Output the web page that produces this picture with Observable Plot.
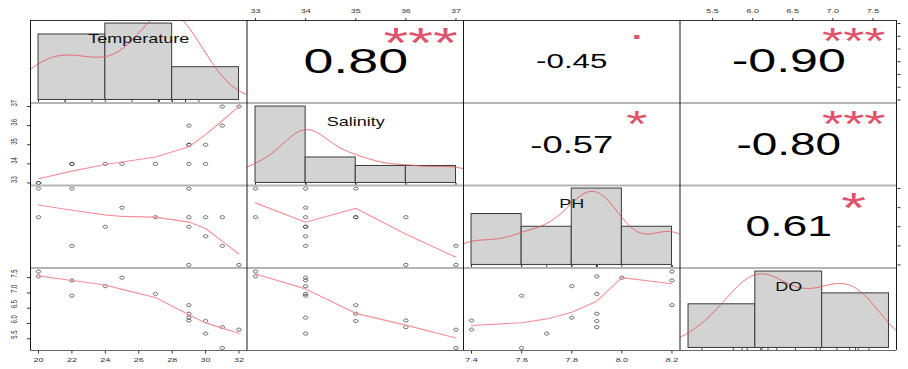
<!DOCTYPE html>
<html>
<head>
<meta charset="utf-8">
<script src="https://cdn.jsdelivr.net/npm/d3@7"></script>
<script src="https://cdn.jsdelivr.net/npm/@observablehq/plot@0.6"></script>
<style>
  body { margin: 0; background: #fff; }
  #chart { position: relative; width: 908px; height: 369px; overflow: hidden; background: #fff; }
  #chart svg { position: absolute; overflow: visible; }
</style>
</head>
<body>
<div id="chart"></div>
<script>
// Water quality measurements (16 samples)
const variables = ["Temperature", "Salinity", "PH", "DO"];
const temperature = [20, 20, 22, 22, 24, 25, 27, 29, 29, 29, 29, 30, 30, 31, 31, 32];
const salinity = [33, 33, 34, 34, 34, 34, 34, 35, 35, 34, 36, 35, 34, 36, 37, 37];
const ph = [8.2, 7.9, 8.2, 7.6, 7.8, 8.0, 7.9, 8.2, 7.9, 7.8, 7.4, 7.9, 7.7, 7.9, 7.6, 7.4];
const dissolvedOxygen = [7.7, 7.54, 7.41, 6.91, 7.22, 7.5, 6.97, 6.6, 6.32, 6.19, 6.1, 6.08, 5.67, 5.88, 5.2, 5.8];

// Pearson correlations and significance codes, upper-triangle order:
// (T,S) (T,PH) (T,DO) (S,PH) (S,DO) (PH,DO)
const correlationLabels = ["0.80", "-0.45", "-0.90", "-0.57", "-0.80", "0.61"];
const significance = ["***", ".", "***", "*", "***", "*"];

const series = [temperature, salinity, ph, dissolvedOxygen];
const nVar = variables.length;
const n = temperature.length;

// layout
const cellW = 216.5, cellH = 82.5, gridLeft = 30, gridTop = 20;
const SX = 1.5; // horizontal text stretch
const FONT = '"Liberation Sans", Arial, Helvetica, sans-serif';
const SMOOTH = "#f3909b", DENS = "#e5545e", STAR = "#df536b";

const pad = ([a, b]) => [a - 0.04 * (b - a), b + 0.04 * (b - a)];
const lerp = (d, t) => d[0] + t * (d[1] - d[0]);
const domains = series.map(v => pad(d3.extent(v)));

const ctx = document.createElement("canvas").getContext("2d");
function emWidth(s) { ctx.font = `100px ${FONT}`; return ctx.measureText(s).width / 100; }

function iqr(v) {
  const s = v.slice().sort(d3.ascending);
  return d3.quantileSorted(s, 0.75) - d3.quantileSorted(s, 0.25);
}

// Freedman-Diaconis breaks, rounded to a pretty step
function fdBreaks(v) {
  const [lo, hi] = d3.extent(v);
  const nclass = Math.ceil((hi - lo) / (2 * iqr(v) * Math.pow(v.length, -1 / 3)));
  const step = d3.tickStep(lo, hi, nclass);
  const k0 = Math.floor(lo / step + 1e-9), k1 = Math.ceil(hi / step - 1e-9);
  return d3.range(k0, k1 + 1).map(k => +(k * step).toFixed(10));
}

// right-closed bins, density scaled
function histogram(v, breaks) {
  const eps = 1e-7 * (breaks[1] - breaks[0]);
  return d3.pairs(breaks).map(([a, b], k) => {
    const count = v.filter(x => (k === 0 ? x >= a - eps : x > a + eps) && x <= b + eps).length;
    return {x1: a, x2: b, density: count / (v.length * (b - a))};
  });
}

// Gaussian kernel density, nrd0 bandwidth
function kde(v) {
  const bw = 0.9 * Math.min(d3.deviation(v), iqr(v) / 1.34) * Math.pow(v.length, -0.2);
  const [lo, hi] = d3.extent(v);
  const from = lo - 3 * bw, to = hi + 3 * bw;
  return d3.range(512).map(i => {
    const x = from + (to - from) * i / 511;
    const y = d3.mean(v, d => Math.exp(-0.5 * ((x - d) / bw) ** 2)) / (bw * Math.sqrt(2 * Math.PI));
    return {x, y};
  });
}

// LOWESS smoother (f = 2/3, 3 robustness iterations)
function lowess(xIn, yIn, f = 2 / 3, nsteps = 3) {
  const N = xIn.length;
  const order = d3.range(N).sort((a, b) => xIn[a] - xIn[b]);
  const x = [NaN, ...order.map(i => xIn[i])];
  const y = [NaN, ...order.map(i => yIn[i])];
  const ys = new Array(N + 1).fill(0), rw = new Array(N + 1).fill(1), res = new Array(N + 1).fill(0);
  const range = x[N] - x[1];
  const delta = 0.01 * range;
  const ns = Math.max(2, Math.min(N, Math.floor(f * N + 1e-7)));

  function lowest(xs, nleft, nright, userw) {
    const h = Math.max(xs - x[nleft], x[nright] - xs);
    const h9 = 0.999 * h, h1 = 0.001 * h;
    const w = new Array(N + 1).fill(0);
    let a = 0, j = nleft;
    while (j <= N) {
      w[j] = 0;
      const r = Math.abs(x[j] - xs);
      if (r <= h9) {
        w[j] = r <= h1 ? 1 : (1 - (r / h) ** 3) ** 3;
        if (userw) w[j] *= rw[j];
        a += w[j];
      } else if (x[j] > xs) break;
      j++;
    }
    const nrt = j - 1;
    if (a <= 0) return null;
    for (j = nleft; j <= nrt; j++) w[j] /= a;
    if (h > 0) {
      a = 0;
      for (j = nleft; j <= nrt; j++) a += w[j] * x[j];
      let b = xs - a, c = 0;
      for (j = nleft; j <= nrt; j++) c += w[j] * (x[j] - a) ** 2;
      if (Math.sqrt(c) > 0.001 * range) {
        b /= c;
        for (j = nleft; j <= nrt; j++) w[j] *= b * (x[j] - a) + 1;
      }
    }
    let out = 0;
    for (j = nleft; j <= nrt; j++) out += w[j] * y[j];
    return out;
  }

  for (let iter = 1; iter <= nsteps + 1; iter++) {
    let nleft = 1, nright = ns, last = 0, i = 1;
    for (;;) {
      if (nright < N) {
        const d1 = x[i] - x[nleft], d2 = x[nright + 1] - x[i];
        if (d1 > d2) { nleft++; nright++; continue; }
      }
      const fit = lowest(x[i], nleft, nright, iter > 1);
      ys[i] = fit === null ? y[i] : fit;
      if (last < i - 1) {
        const denom = x[i] - x[last];
        for (let j = last + 1; j < i; j++) {
          const alpha = (x[j] - x[last]) / denom;
          ys[j] = alpha * ys[i] + (1 - alpha) * ys[last];
        }
      }
      last = i;
      const cut = x[last] + delta;
      for (i = last + 1; i <= N; i++) {
        if (x[i] > cut) break;
        if (x[i] === x[last]) { ys[i] = ys[last]; last = i; }
      }
      i = Math.max(last + 1, i - 1);
      if (last >= N) break;
    }
    for (let k = 1; k <= N; k++) res[k] = y[k] - ys[k];
    const sc = d3.mean(res.slice(1), Math.abs);
    if (iter > nsteps) break;
    const absRes = res.slice(1).map(Math.abs).sort(d3.ascending);
    const m1 = Math.floor(N / 2);
    const cmad = N % 2 === 0 ? 3 * (absRes[m1] + absRes[N - m1 - 1]) : 6 * absRes[m1];
    if (cmad < 1e-7 * sc) break;
    const c9 = 0.999 * cmad, c1 = 0.001 * cmad;
    for (let k = 1; k <= N; k++) {
      const r = Math.abs(res[k]);
      rw[k] = r <= c1 ? 1 : r <= c9 ? (1 - (r / cmad) ** 2) ** 2 : 0;
    }
  }
  return d3.range(1, N + 1).map(k => ({x: x[k], y: ys[k]}));
}

// small open ellipse for scatter points
const ring = {
  draw(c) {
    const rx = 2.3, ry = 1.5, k = 0.5523;
    c.moveTo(rx, 0);
    c.bezierCurveTo(rx, ry * k, rx * k, ry, 0, ry);
    c.bezierCurveTo(-rx * k, ry, -rx, ry * k, -rx, 0);
    c.bezierCurveTo(-rx, -ry * k, -rx * k, -ry, 0, -ry);
    c.bezierCurveTo(rx * k, -ry, rx, -ry * k, rx, 0);
    c.closePath();
  }
};

const tickValues = d => d3.ticks(d[0], d[1], 5);
const tickFmt = d => d3.format(`.${d3.precisionFixed(d3.tickStep(d[0], d[1], 5))}f`);

function stretchText(svg) {
  for (const t of svg.querySelectorAll("text")) {
    const tr = t.getAttribute("transform");
    if (!tr || !tr.startsWith("translate(")) continue;
    const k = tr.indexOf(")") + 1;
    t.setAttribute("transform", `${tr.slice(0, k)} scale(${SX},1)${tr.slice(k)}`);
  }
}

const chart = document.getElementById("chart");
const pairIndex = (i, j) => { let p = 0; for (let a = 0; a < nVar; a++) for (let b = a + 1; b < nVar; b++) { if (a === i && b === j) return p; p++; } };

for (let i = 0; i < nVar; i++) {
  for (let j = 0; j < nVar; j++) {
    const axTop = i === 0 && j % 2 === 1;
    const axBottom = i === nVar - 1 && j % 2 === 0;
    const axLeft = j === 0 && i % 2 === 1;
    const axRight = j === nVar - 1 && i % 2 === 0;
    const m = {top: axTop ? 20 : 0, bottom: axBottom ? 20 : 0, left: axLeft ? 30 : 0, right: axRight ? 12 : 0};
    let xD, yD, marks;

    if (i === j) {
      // distribution: histogram, density, rug, name
      const v = series[i];
      const breaks = fdBreaks(v);
      const bins = histogram(v, breaks);
      const M = d3.max(bins, b => b.density);
      xD = pad(d3.extent(breaks));
      yD = [-0.04 * M, 1.04 * M];
      marks = [
        Plot.rect(bins, {x1: "x1", x2: "x2", y1: 0, y2: "density", fill: "#d3d3d3", stroke: "#3a3a3a", strokeWidth: 1}),
        Plot.line(kde(v), {x: "x", y: "y", stroke: DENS, strokeWidth: 0.9, clip: true}),
        Plot.ruleX(v, {x: d => d, y1: yD[0], y2: yD[0] + 0.03 * (yD[1] - yD[0]), stroke: "#222", strokeWidth: 0.8}),
        Plot.text([variables[i]], {frameAnchor: "top", dy: (1 - 0.833) * cellH, fontSize: 12, fontFamily: FONT, fill: "#111"})
      ];
    } else if (i > j) {
      // scatter with smoother
      const pts = d3.range(n).map(k => ({x: series[j][k], y: series[i][k]}));
      xD = domains[j];
      yD = domains[i];
      marks = [
        Plot.dot(pts, {x: "x", y: "y", symbol: ring, fill: "none", stroke: "#3d3d3d", strokeWidth: 0.8}),
        Plot.line(lowess(series[j], series[i]), {x: "x", y: "y", stroke: SMOOTH, strokeWidth: 1.1, clip: true})
      ];
    } else {
      // correlation coefficient and significance stars
      const p = pairIndex(i, j);
      const txt = correlationLabels[p], r = +txt, sig = significance[p];
      const cex = cellH / emWidth(txt);
      xD = domains[j];
      yD = domains[i];
      marks = [
        Plot.text([txt], {x: lerp(xD, 0.5), y: lerp(yD, 0.5), text: d => d, fontSize: cex * (Math.abs(r) + 0.3) / 1.3, fontFamily: FONT, fill: "#000"}),
        Plot.text([sig], {x: lerp(xD, 0.8), y: lerp(yD, 0.8), text: d => d, fontSize: cex, fontFamily: FONT, fill: STAR,
          dy: cex * (sig[0] === "." ? -0.27 : 0.14)})
      ];
    }

    const axes = [];
    if (axTop) axes.push(Plot.axisX({anchor: "top", ticks: tickValues(xD), tickFormat: tickFmt(xD), tickSize: 3, tickPadding: 5, fontSize: 6, label: null}));
    if (axBottom) axes.push(Plot.axisX({anchor: "bottom", ticks: tickValues(xD), tickFormat: tickFmt(xD), tickSize: 3, tickPadding: 4, fontSize: 6, label: null}));
    if (axLeft) {
      axes.push(Plot.axisY({anchor: "left", ticks: tickValues(yD), tickFormat: () => "", tickSize: 3, label: null}));
      axes.push(Plot.text(tickValues(yD), {y: d => d, text: tickFmt(yD), frameAnchor: "left", dx: -16, rotate: -90, fontSize: 6, fontFamily: FONT, fill: "#333"}));
    }
    if (axRight) axes.push(Plot.axisY({anchor: "right", ticks: tickValues(yD), tickFormat: () => "", tickSize: 3, label: null}));

    const svg = Plot.plot({
      width: cellW + m.left + m.right,
      height: cellH + m.top + m.bottom,
      marginTop: m.top, marginBottom: m.bottom, marginLeft: m.left, marginRight: m.right,
      x: {domain: xD, axis: null},
      y: {domain: yD, axis: null},
      style: {background: "none", overflow: "visible", color: "#333", fontFamily: FONT, fontSize: "6px"},
      marks: [...marks, ...axes]
    });
    svg.style.left = `${gridLeft + j * cellW - m.left}px`;
    svg.style.top = `${gridTop + i * cellH - m.top}px`;
    stretchText(svg);
    chart.append(svg);
  }
}

// panel borders
const frame = Plot.plot({
  width: 908, height: 369, margin: 0,
  x: {domain: [0, nVar], range: [gridLeft, gridLeft + nVar * cellW], axis: null},
  y: {domain: [0, nVar], range: [gridTop, gridTop + nVar * cellH], axis: null},
  style: {background: "none", overflow: "visible"},
  marks: [
    Plot.ruleY(d3.range(1, nVar), {y: d => d, x1: 0, x2: nVar, stroke: "#b5b5b5", strokeWidth: 2}),
    Plot.ruleY([0], {y: d => d, x1: 0, x2: nVar, stroke: "#333"}),
    Plot.ruleY([nVar], {y: d => d, x1: 0, x2: nVar, stroke: "#666"}),
    Plot.ruleX(d3.range(0, nVar + 1), {x: d => d, y1: 0, y2: nVar, stroke: "#1a1a1a"})
  ]
});
frame.style.left = "0px";
frame.style.top = "0px";
frame.style.pointerEvents = "none";
chart.append(frame);
</script>
</body>
</html>
